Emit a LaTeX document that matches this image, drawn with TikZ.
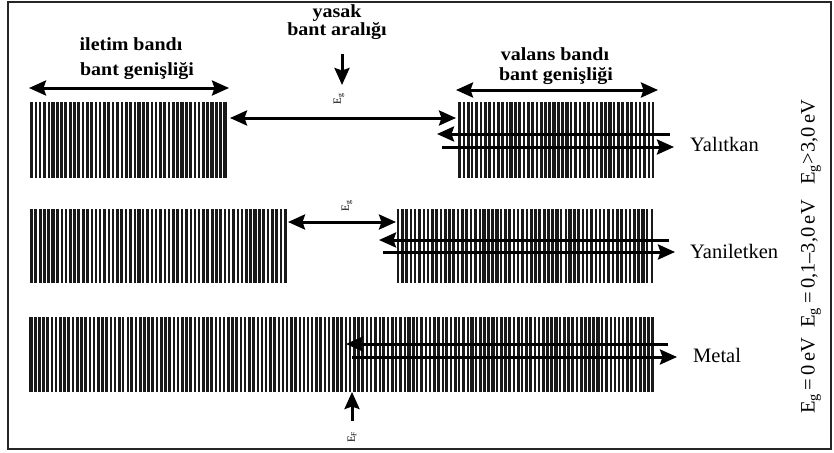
\documentclass[tikz,border=0pt]{standalone}
\usepackage{fontspec}
\setmainfont{Liberation Serif}
\usetikzlibrary{arrows.meta}
\newcommand{\bandbars}[7]{% x0 x1 y0 y1 pitch minw rangew
  \pgfmathtruncatemacro\bbn{(#2-#1)/#5}
  \foreach \ii in {0,...,\bbn}{
    \pgfmathsetmacro\bbx{#1+\ii*#5}
    \pgfmathsetmacro\bbw{#6+#7*rnd}
    \draw[line width=\bbw pt, line cap=butt, black!90] (\bbx,#3) -- (\bbx,#4);
  }
}
\begin{document}
\begin{tikzpicture}[x=1pt,y=-1pt,
  arr/.style={line width=3pt, -{Stealth[length=17pt,width=15pt,inset=2.5pt]}},
  darr/.style={line width=3pt, {Stealth[length=17pt,width=15pt,inset=2.5pt]}-{Stealth[length=17pt,width=15pt,inset=2.5pt]}},
  head/.style={font=\fontsize{18.5}{20}\selectfont\bfseries, anchor=base, xscale=1.08, inner sep=0pt},
  lbl/.style={font=\fontsize{20.5}{22}\selectfont, anchor=base west, inner sep=0pt},
  eg/.style={font=\fontsize{11}{12}\selectfont, rotate=90, inner sep=0pt},
  bandarea/.style={inner sep=0pt, draw=none, anchor=north west}
]
\pgfmathsetseed{7}
\useasboundingbox (0,0) rectangle (834,452);
\draw[line width=1.6pt, black!85] (8,2) rectangle (831,449);

% ---- bands (bars) ----
\bandbars{31.5}{226.5}{102}{178}{4.3}{2.0}{1.4}
\bandbars{459.5}{654.5}{102}{178}{4.3}{2.0}{1.4}
\bandbars{31.5}{285.5}{209}{283}{4.3}{2.0}{1.4}
\bandbars{398}{652.5}{209}{283}{4.3}{2.0}{1.4}
\bandbars{31}{655}{317}{392}{4.2}{1.9}{1.4}

\node[bandarea, minimum width=198pt, minimum height=76pt] (b1l) at (30,102) {};
\node[bandarea, minimum width=198pt, minimum height=76pt] (b1r) at (458,102) {};
\node[bandarea, minimum width=257pt, minimum height=74pt] (b2l) at (30,209) {};
\node[bandarea, minimum width=257pt, minimum height=74pt] (b2r) at (396,209) {};
\node[bandarea, minimum width=626pt, minimum height=75pt] (b3) at (30,317) {};

% ---- headings ----
\node[head] (il1) at (131,50) {iletim bandı};
\node[head] (il2) at (137,75) {bant genişliği};
\node[head] (ya1) at (337,18) {yasak};
\node[head] (ya2) at (337,36) {bant aralığı};
\node[head] (va1) at (555,60) {valans bandı};
\node[head] (va2) at (556,80) {bant genişliği};

% ---- width arrows ----
\coordinate (w1a) at (29,88);  \coordinate (w1b) at (229,88);
\draw[darr] (w1a) -- (w1b);
\coordinate (w2a) at (456,90); \coordinate (w2b) at (658,90);
\draw[darr] (w2a) -- (w2b);

% ---- yasak arrow ----
\coordinate (ys) at (342,54); \coordinate (ye) at (342,85);
\draw[arr] (ys) -- (ye);
\node[eg] (eg1) at (339,99) {E\textsubscript{g}};

% ---- row 1 ----
\coordinate (g1a) at (230,118); \coordinate (g1b) at (456,118);
\draw[darr] (g1a) -- (g1b);
\coordinate (r1la) at (670,134); \coordinate (r1lb) at (437,134);
\draw[arr] (r1la) -- (r1lb);
\coordinate (r1ra) at (442,147); \coordinate (r1rb) at (674,147);
\draw[arr] (r1ra) -- (r1rb);
\node[lbl] (yal) at (690,151) {Yalıtkan};

% ---- row 2 ----
\coordinate (g2a) at (288,222); \coordinate (g2b) at (396,222);
\draw[darr] (g2a) -- (g2b);
\node[eg] (eg2) at (347,206) {E\textsubscript{g}};
\coordinate (r2la) at (669,240); \coordinate (r2lb) at (379,240);
\draw[arr] (r2la) -- (r2lb);
\coordinate (r2ra) at (383,252); \coordinate (r2rb) at (675,252);
\draw[arr] (r2ra) -- (r2rb);
\node[lbl] (yar) at (690,258) {Yaniletken};

% ---- row 3 ----
\coordinate (r3la) at (668,344); \coordinate (r3lb) at (346,344);
\draw[arr] (r3la) -- (r3lb);
\coordinate (r3ra) at (352,357); \coordinate (r3rb) at (677,357);
\draw[arr] (r3ra) -- (r3rb);
\node[lbl] (met) at (693,362) {Metal};
\coordinate (efs) at (352,421); \coordinate (efe) at (352,392);
\draw[arr] (efs) -- (efe);
\node[eg] (ef) at (352,437) {E\textsubscript{F}};

% ---- right side text ----
\node[font=\fontsize{20.5}{22}\selectfont, rotate=90, inner sep=0pt] (rt) at (811,257)
  {E\textsubscript{g}\,=\,0\,eV\enspace E\textsubscript{g}\,=\,0,1–3,0\,eV\enspace\ E\textsubscript{g}>3,0\,eV};
\end{tikzpicture}
\end{document}
